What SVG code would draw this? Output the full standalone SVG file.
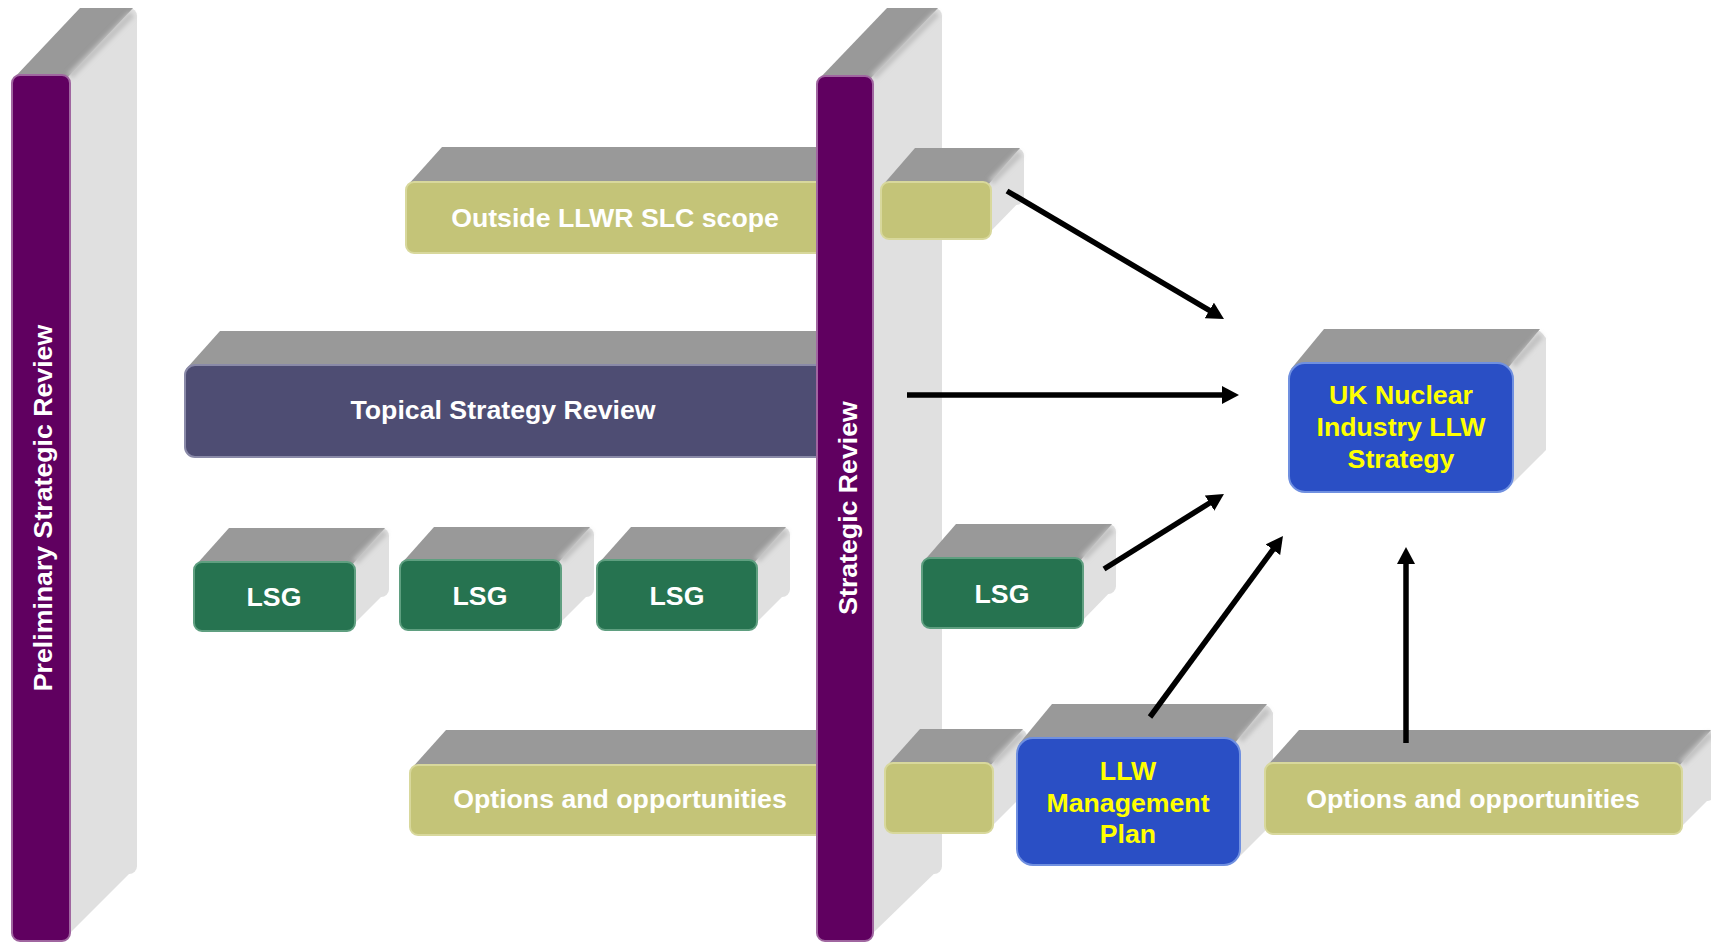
<svg xmlns="http://www.w3.org/2000/svg" width="1711" height="943" viewBox="0 0 1711 943">
<defs>
<style>
.side{fill:#e0e0e0}
.top{fill:#999999}
.bevel{stroke:#c2c2c2;stroke-width:7;fill:none;filter:url(#soft)}
.purple{fill:#600060;stroke:#a066a0;stroke-width:2}
.olive{fill:#c4c478;stroke:#d8d89c;stroke-width:2}
.green{fill:#267350;stroke:#5f9f80;stroke-width:2}
.blue{fill:#2a4fc5;stroke:#7090e0;stroke-width:2}
.slate{fill:#4e4d73;stroke:#8a8aa8;stroke-width:2}
text{font-family:"Liberation Sans",Arial,Helvetica,sans-serif;font-weight:bold;font-size:26.7px;text-anchor:middle}
.w{fill:#ffffff}
.y{fill:#ffff00}
.arrow{stroke:#000;stroke-width:5.5;fill:none;marker-end:url(#head)}
</style>
<filter id="soft" x="-50%" y="-50%" width="200%" height="200%">
<feGaussianBlur stdDeviation="2"/>
</filter>
<marker id="head" markerUnits="userSpaceOnUse" markerWidth="18" markerHeight="18" viewBox="0 0 18 18" refX="1" refY="9" orient="auto">
<path d="M0,0 L17,9 L0,18 Z" fill="#000"/>
</marker>
</defs>
<rect width="1711" height="943" fill="#ffffff"/>

<g id="preliminary-strategic-review">
<rect class="side" x="79" y="8" width="58" height="866" rx="8"/>
<polygon class="side" points="62,75 129,8 137,16 137,866 70,933"/>
<polygon class="top" points="13,79 80,8 133,8 66,79"/>
<line class="bevel" x1="70" y1="76" x2="132" y2="14"/>
<rect class="purple" x="12" y="75" width="58" height="866" rx="8"/>
<text class="w" transform="translate(52,508) rotate(-90)">Preliminary Strategic Review</text>
</g>

<g id="outside-llwr-slc-scope">
<rect class="side" x="441" y="147" width="430" height="71" rx="8"/>
<polygon class="top" points="407,186 442,147 867,147 832,186"/>
<rect class="olive" x="406" y="182" width="430" height="71" rx="8"/>
<text class="w" x="615" y="227">Outside LLWR SLC scope</text>
</g>

<g id="topical-strategy-review">
<rect class="side" x="219" y="331" width="650" height="92" rx="8"/>
<polygon class="top" points="186,369 220,331 865,331 831,369"/>
<rect class="slate" x="185" y="365" width="650" height="92" rx="10"/>
<text class="w" x="503" y="419">Topical Strategy Review</text>
</g>

<g id="lsg-1">
<rect class="side" x="228" y="528" width="161" height="69" rx="8"/>
<polygon class="side" points="347,562 381,528 389,536 389,589 355,623"/>
<polygon class="top" points="195,566 229,528 385,528 351,566"/>
<line class="bevel" x1="355" y1="562" x2="385" y2="532"/>
<rect class="green" x="194" y="562" width="161" height="69" rx="8"/>
<text class="w" x="274" y="606">LSG</text>
</g>

<g id="lsg-2">
<rect class="side" x="433" y="527" width="161" height="70" rx="8"/>
<polygon class="side" points="553,560 586,527 594,535 594,589 561,622"/>
<polygon class="top" points="401,564 434,527 590,527 557,564"/>
<line class="bevel" x1="561" y1="560" x2="590" y2="531"/>
<rect class="green" x="400" y="560" width="161" height="70" rx="8"/>
<text class="w" x="480" y="605">LSG</text>
</g>

<g id="lsg-3">
<rect class="side" x="630" y="527" width="160" height="70" rx="8"/>
<polygon class="side" points="749,560 782,527 790,535 790,589 757,622"/>
<polygon class="top" points="598,564 631,527 786,527 753,564"/>
<line class="bevel" x1="757" y1="560" x2="786" y2="531"/>
<rect class="green" x="597" y="560" width="160" height="70" rx="8"/>
<text class="w" x="677" y="605">LSG</text>
</g>

<g id="options-left">
<rect class="side" x="445" y="730" width="430" height="70" rx="8"/>
<polygon class="top" points="411,769 446,730 871,730 836,769"/>
<rect class="olive" x="410" y="765" width="430" height="70" rx="8"/>
<text class="w" x="620" y="808">Options and opportunities</text>
</g>

<g id="strategic-review">
<rect class="side" x="886" y="8" width="56" height="866" rx="8"/>
<polygon class="side" points="865,76 934,8 942,16 942,866 873,933"/>
<polygon class="top" points="818,80 887,8 938,8 869,80"/>
<line class="bevel" x1="873" y1="77" x2="937" y2="13"/>
<rect class="purple" x="817" y="76" width="56" height="865" rx="8"/>
<text class="w" transform="translate(857,508) rotate(-90)">Strategic Review</text>
</g>

<g id="outside-continuation">
<rect class="side" x="914" y="148" width="110" height="57" rx="8"/>
<polygon class="side" points="983,182 1016,148 1024,156 1024,197 991,231"/>
<polygon class="top" points="882,186 915,148 1020,148 987,186"/>
<line class="bevel" x1="991" y1="182" x2="1020" y2="153"/>
<rect class="olive" x="881" y="182" width="110" height="57" rx="8"/>
</g>

<g id="lsg-strategic">
<rect class="side" x="955" y="524" width="161" height="70" rx="8"/>
<polygon class="side" points="1075,558 1108,524 1116,532 1116,586 1083,620"/>
<polygon class="top" points="923,562 956,524 1112,524 1079,562"/>
<line class="bevel" x1="1083" y1="558" x2="1112" y2="529"/>
<rect class="green" x="922" y="558" width="161" height="70" rx="8"/>
<text class="w" x="1002" y="603">LSG</text>
</g>

<g id="options-continuation">
<rect class="side" x="919" y="729" width="108" height="70" rx="8"/>
<polygon class="side" points="985,763 1019,729 1027,737 1027,791 993,825"/>
<polygon class="top" points="886,767 920,729 1023,729 989,767"/>
<line class="bevel" x1="993" y1="763" x2="1022" y2="734"/>
<rect class="olive" x="885" y="763" width="108" height="70" rx="8"/>
</g>

<g id="llw-management-plan">
<rect class="side" x="1051" y="704" width="222" height="127" rx="12"/>
<polygon class="side" points="1230,738 1264,704 1273,713 1273,823 1240,856"/>
<polygon class="top" points="1019,744 1052,704 1267,704 1234,744"/>
<line class="bevel" x1="1240" y1="740" x2="1268" y2="710"/>
<rect class="blue" x="1017" y="738" width="223" height="127" rx="16"/>
<text class="y" x="1128" y="780">LLW</text>
<text class="y" x="1128" y="812">Management</text>
<text class="y" x="1128" y="843">Plan</text>
</g>

<g id="options-right">
<rect class="side" x="1298" y="730" width="417" height="71" rx="8"/>
<polygon class="side" points="1674,763 1707,730 1715,738 1715,793 1682,826"/>
<polygon class="top" points="1266,767 1299,730 1711,730 1678,767"/>
<line class="bevel" x1="1682" y1="763" x2="1711" y2="734"/>
<rect class="olive" x="1265" y="763" width="417" height="71" rx="8"/>
<text class="w" x="1473" y="808">Options and opportunities</text>
</g>

<g id="uk-nuclear-industry-llw-strategy">
<rect class="side" x="1323" y="329" width="223" height="129" rx="14"/>
<polygon class="side" points="1503,363 1537,329 1546,338 1546,450 1513,483"/>
<polygon class="top" points="1291,369 1324,329 1540,329 1507,369"/>
<line class="bevel" x1="1513" y1="365" x2="1541" y2="335"/>
<rect class="blue" x="1289" y="363" width="224" height="129" rx="16"/>
<text class="y" x="1401" y="404">UK Nuclear</text>
<text class="y" x="1401" y="436">Industry LLW</text>
<text class="y" x="1401" y="468">Strategy</text>
</g>

<g id="connectors">
<line class="arrow" x1="1007" y1="191" x2="1210.2" y2="310.9"/>
<line class="arrow" x1="907" y1="395" x2="1223" y2="395"/>
<line class="arrow" x1="1104" y1="569" x2="1210.4" y2="502.5"/>
<line class="arrow" x1="1150" y1="717" x2="1273.5" y2="548.9"/>
<line class="arrow" x1="1406" y1="743" x2="1406" y2="563"/>
</g>
</svg>
